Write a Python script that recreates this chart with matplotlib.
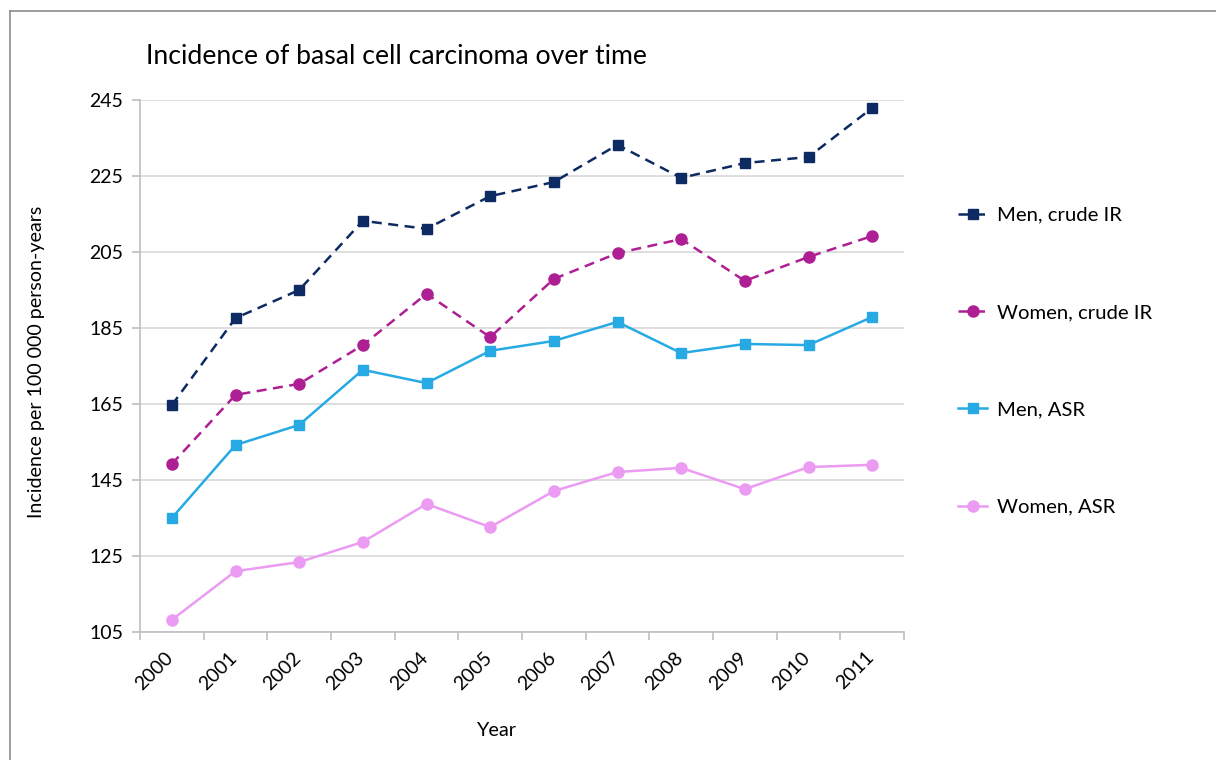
import numpy as np
import matplotlib.pyplot as plt
import matplotlib.transforms as mtransforms
from matplotlib.lines import Line2D

plt.rcParams['font.family'] = ['Lato', 'DejaVu Sans']

years = ['2000', '2001', '2002', '2003', '2004', '2005',
         '2006', '2007', '2008', '2009', '2010', '2011']
men_crude = [164.7, 187.6, 195.0, 213.2, 211.1, 219.7, 223.4, 233.2, 224.5, 228.4, 230.0, 242.9]
women_crude = [149.2, 167.4, 170.3, 180.5, 194.0, 182.6, 197.9, 204.7, 208.4, 197.4, 203.7, 209.2]
men_asr = [135.0, 154.2, 159.5, 174.0, 170.5, 179.0, 181.6, 186.6, 178.4, 180.8, 180.5, 187.9]
women_asr = [108.2, 121.0, 123.4, 128.7, 138.7, 132.6, 142.1, 147.1, 148.2, 142.6, 148.4, 149.0]

fig = plt.figure(figsize=(12.16, 7.6), dpi=100)
ax = fig.add_axes([140/1216, 128/760, 764/1216, 532/760])

x = np.arange(len(years))
dash = (0, (4, 2.6))
ax.plot(x, men_crude, color='#0d2a62', lw=1.8, ls=dash, marker='s', ms=6.5,
        label='Men, crude IR', zorder=4)
ax.plot(x, women_crude, color='#ae1f93', lw=1.8, ls=dash, marker='o', ms=8,
        label='Women, crude IR', zorder=4)
ax.plot(x, men_asr, color='#27aae4', lw=1.8, marker='s', ms=6.5,
        label='Men, ASR', zorder=4)
ax.plot(x, women_asr, color='#eb9bf2', lw=1.8, marker='o', ms=8,
        label='Women, ASR', zorder=4)

ax.set_xlim(-0.5, len(years) - 0.5)
ax.set_ylim(105, 245)
ax.set_yticks(np.arange(105, 246, 20))
ax.grid(axis='y', color='#d9d9d9', lw=1.2)
ax.set_axisbelow(True)

# category ticks sit between the years, labels at the centres
ax.set_xticks(np.arange(-0.5, len(years), 1.0))
ax.set_xticklabels([])
ax.set_xticks(x, minor=True)
ax.set_xticklabels(years, minor=True, rotation=45, ha='right', fontsize=14)
ax.tick_params(axis='x', which='minor', length=0, pad=12)
ax.tick_params(axis='x', which='major', length=6, color='#bfbfbf', width=1.2)
ax.tick_params(axis='y', length=6, color='#bfbfbf', width=1.2, labelsize=14, pad=6)
shift = mtransforms.ScaledTranslation(5/100, 0, fig.dpi_scale_trans)
for lab in ax.get_xticklabels(minor=True):
    lab.set_transform(lab.get_transform() + shift)

for s in ['top', 'right']:
    ax.spines[s].set_visible(False)
for s in ['left', 'bottom']:
    ax.spines[s].set_color('#bfbfbf')
    ax.spines[s].set_linewidth(1.2)

fig.text(146/1216, 1 - 56/760, 'Incidence of basal cell carcinoma over time',
         fontsize=19.2, ha='left', va='center')
fig.text(37/1216, 1 - 362/760, 'Incidence per 100 000 person-years',
         fontsize=14.1, rotation=90, ha='center', va='center')
fig.text(497/1216, 1 - 731/760, 'Year', fontsize=14.3, ha='center', va='center')

ax.legend(loc='upper left', bbox_to_anchor=(1.06, 0.815), frameon=False,
          fontsize=14.6, labelspacing=3.95, handlelength=1.45, handletextpad=0.5,
          borderaxespad=0)

# outer chart frame
fig.add_artist(Line2D([10/1216, 10/1216], [0, 1 - 11/760], color='#8c8c8c',
                      lw=1.2, transform=fig.transFigure))
fig.add_artist(Line2D([10/1216, 1], [1 - 11/760, 1 - 11/760], color='#8c8c8c',
                      lw=1.2, transform=fig.transFigure))

fig.savefig('out.png', dpi=100)
